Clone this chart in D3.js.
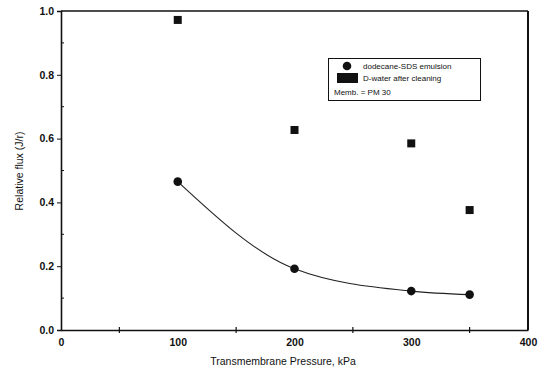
<!DOCTYPE html>
<html>
<head>
<meta charset="utf-8">
<script src="https://cdn.jsdelivr.net/npm/d3@7"></script>
<style>
  html, body { margin: 0; padding: 0; background: #fff; }
  svg { display: block; }
  text { font-family: "Liberation Sans", Arial, sans-serif; fill: #111; }
</style>
</head>
<body>
<svg id="chart" width="543" height="373"></svg>
<script>
// Transmembrane pressure (kPa) at each measurement
const pressure = [100, 200, 300, 350];
// Relative flux during dodecane-SDS emulsion filtration
const emulsionFlux = [0.465, 0.192, 0.122, 0.111];
// Relative flux of deionised water after cleaning
const waterFlux = [0.972, 0.627, 0.585, 0.376];

const xTicks = [0, 100, 200, 300, 400];
const xMinorTicks = [50, 150, 250, 350];
const yTicks = [0.0, 0.2, 0.4, 0.6, 0.8, 1.0];
const yMinorTicks = [0.1, 0.3, 0.5, 0.7, 0.9];

const legendLabels = ["dodecane-SDS emulsion", "D-water after cleaning", "Memb. = PM 30"];

const svg = d3.select("#chart");
const x = d3.scaleLinear().domain([0, 400]).range([61, 528]);
const y = d3.scaleLinear().domain([0, 1]).range([330, 11]);

// Frame: top and right edges
svg.append("line").attr("x1", x(0)).attr("x2", x(400)).attr("y1", y(1)).attr("y2", y(1))
  .attr("stroke", "#111").attr("stroke-width", 1.3);
svg.append("line").attr("x1", x(400)).attr("x2", x(400)).attr("y1", y(1)).attr("y2", y(0))
  .attr("stroke", "#111").attr("stroke-width", 2);

// Bottom axis
const xAxis = svg.append("g").attr("transform", `translate(0,${y(0)})`)
  .call(d3.axisBottom(x).tickValues(xTicks).tickSize(0).tickPadding(9).tickFormat(d3.format("d")));
xAxis.select(".domain").attr("stroke", "#111").attr("stroke-width", 1.4);
xAxis.selectAll(".tick text").attr("font-size", 10.5).attr("font-weight", "bold");
svg.append("g").selectAll("line").data(xMinorTicks).join("line")
  .attr("x1", d => x(d)).attr("x2", d => x(d))
  .attr("y1", y(0) - 3).attr("y2", y(0) + 3)
  .attr("stroke", "#111").attr("stroke-width", 1.2);

// Left axis
const yAxis = svg.append("g").attr("transform", `translate(${x(0)},0)`)
  .call(d3.axisLeft(y).tickValues(yTicks).tickSize(4).tickPadding(3).tickFormat(d3.format(".1f")));
yAxis.select(".domain").attr("stroke", "#111").attr("stroke-width", 1.6);
yAxis.selectAll(".tick line").attr("stroke", "#111").attr("stroke-width", 1);
yAxis.selectAll(".tick text").attr("font-size", 10.5).attr("font-weight", "bold");
svg.append("g").selectAll("line").data(yMinorTicks).join("line")
  .attr("x1", x(0)).attr("x2", x(0) + 3)
  .attr("y1", d => y(d)).attr("y2", d => y(d))
  .attr("stroke", "#111").attr("stroke-width", 1);

// Axis titles
svg.append("text").attr("x", 283).attr("y", 365).attr("text-anchor", "middle")
  .attr("font-size", 10.5).text("Transmembrane Pressure, kPa");
svg.append("text").attr("transform", "translate(23,171) rotate(-90)")
  .attr("text-anchor", "middle").attr("font-size", 10.5).text("Relative flux (J/r)");

// Smooth trend through the emulsion points
const emulsionPts = pressure.map((p, i) => [p, emulsionFlux[i]]);
svg.append("path")
  .attr("d", d3.line().x(d => x(d[0])).y(d => y(d[1])).curve(d3.curveMonotoneX)(emulsionPts))
  .attr("fill", "none").attr("stroke", "#222").attr("stroke-width", 1.1);

// Markers
svg.append("g").selectAll("circle").data(emulsionPts).join("circle")
  .attr("cx", d => x(d[0])).attr("cy", d => y(d[1])).attr("r", 4.3).attr("fill", "#111");
svg.append("g").selectAll("rect").data(pressure.map((p, i) => [p, waterFlux[i]])).join("rect")
  .attr("x", d => x(d[0]) - 4).attr("y", d => y(d[1]) - 4)
  .attr("width", 8).attr("height", 8).attr("fill", "#111");

// Legend
const lg = svg.append("g");
lg.append("rect").attr("x", 328.5).attr("y", 58.5).attr("width", 152).attr("height", 42)
  .attr("fill", "#fff").attr("stroke", "#111").attr("stroke-width", 1);
lg.append("circle").attr("cx", 347).attr("cy", 66).attr("r", 4.3).attr("fill", "#111");
lg.append("rect").attr("x", 337).attr("y", 73).attr("width", 21).attr("height", 10).attr("fill", "#111");
lg.append("text").attr("x", 363).attr("y", 69).attr("font-size", 8).text(legendLabels[0]);
lg.append("text").attr("x", 363).attr("y", 81).attr("font-size", 8).text(legendLabels[1]);
lg.append("text").attr("x", 334).attr("y", 95).attr("font-size", 8).text(legendLabels[2]);
</script>
</body>
</html>
